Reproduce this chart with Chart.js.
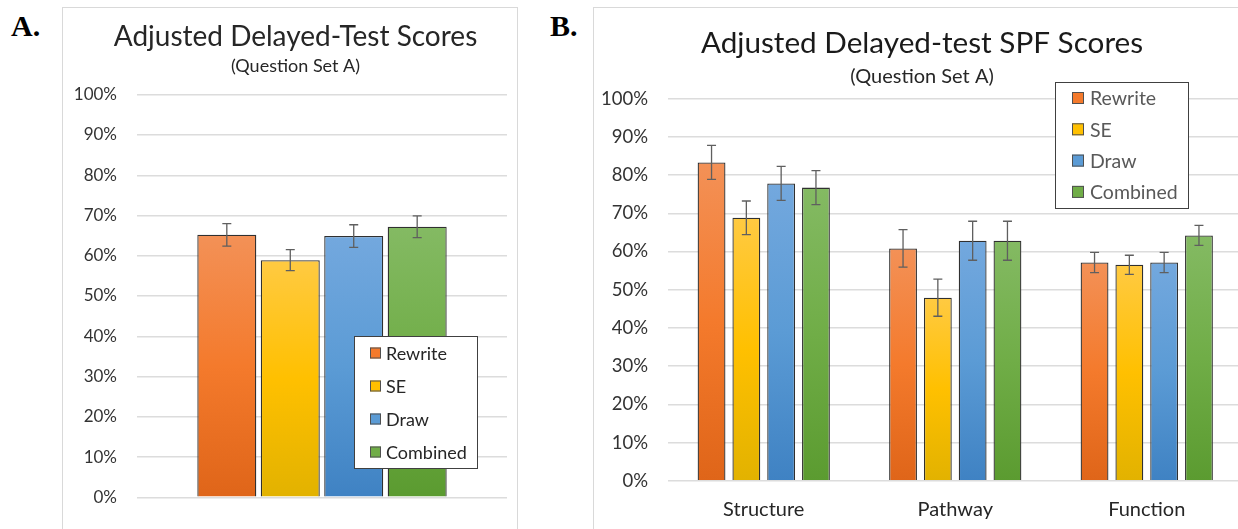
<!DOCTYPE html>
<html>
<head>
<meta charset="utf-8">
<script src="https://cdn.jsdelivr.net/npm/chart.js@4.4.0/dist/chart.umd.min.js"></script>
<style>
  html, body { margin: 0; padding: 0; background: #fff; overflow: hidden; width: 1238px; height: 529px; }
  .panel { position: absolute; box-sizing: border-box; border: 1px solid #d9d9d9; background: #fff; }
  #panelA { left: 62px; top: 7px; width: 456px; height: 540px; }
  #panelB { left: 593px; top: 7px; width: 700px; height: 540px; }
  .panel canvas { position: absolute; left: 0; top: 0; }
  .tag { position: absolute; font-family: 'Liberation Serif', 'Times New Roman', serif; font-weight: bold; font-size: 30px; line-height: 30px; color: #000; }
</style>
</head>
<body>
<div class="tag" style="left:11px; top:11px;">A.</div>
<div class="tag" style="left:550px; top:11px;">B.</div>
<div class="panel" id="panelA"><canvas id="chartA" width="454" height="521" style="width:454px;height:521px"></canvas></div>
<div class="panel" id="panelB"><canvas id="chartB" width="660" height="521" style="width:660px;height:521px"></canvas></div>

<script>
// ---- data ----
const seriesNames = ['Rewrite', 'SE', 'Draw', 'Combined'];

// panel A: one group, four bars
const categoriesA = [''];
const scoresA = [65.2, 58.9, 64.9, 67.2];
const errorsA = [2.8, 2.6, 2.8, 2.7];

// panel B: three groups
const categoriesB = ['Structure', 'Pathway', 'Function'];
const rewriteB = [83.3, 60.8, 57.1];
const seB = [68.8, 47.9, 56.5];
const drawB = [77.8, 62.8, 57.1];
const combinedB = [76.7, 62.8, 64.2];
const rewriteErrB = [4.45, 4.9, 2.65];
const seErrB = [4.4, 4.85, 2.5];
const drawErrB = [4.45, 5.1, 2.65];
const combinedErrB = [4.45, 5.1, 2.6];

const yMin = 0, yMax = 100, yStep = 10;

// light / base / dark shade for each series (Excel style gradient)
const shades = [
  ['#f39157', '#f47a2c', '#df6519'],
  ['#ffca42', '#ffc000', '#e2b200'],
  ['#73a8de', '#5b9bd5', '#3f82c3'],
  ['#84ba63', '#70ad47', '#5b9b30']
];

Chart.defaults.font.family = 'Lato';
Chart.defaults.color = '#333';
Chart.defaults.animation = false;

function barGradient(colors) {
  return function (ctx) {
    const chart = ctx.chart;
    const yScale = chart.scales.y;
    if (!chart.chartArea || !yScale || ctx.raw == null) return colors[1];
    const top = yScale.getPixelForValue(ctx.raw);
    const base = yScale.getPixelForValue(0);
    const g = chart.ctx.createLinearGradient(0, top, 0, base);
    g.addColorStop(0, colors[0]);
    g.addColorStop(0.5, colors[1]);
    g.addColorStop(1, colors[2]);
    return g;
  };
}

function makeDataset(i, values, errors, barPct, catPct) {
  return {
    label: seriesNames[i],
    data: values,
    errors: errors,
    swatch: shades[i][1],
    backgroundColor: barGradient(shades[i]),
    borderColor: '#303030',
    borderWidth: 1.3,
    barPercentage: barPct,
    categoryPercentage: catPct
  };
}

// error bars drawn from the y scale
const errorBars = {
  id: 'errorBars',
  afterDatasetsDraw(chart) {
    const y = chart.scales.y;
    const c = chart.ctx;
    c.save();
    c.strokeStyle = '#5f5f5f';
    c.lineWidth = 1.3;
    chart.data.datasets.forEach((ds, i) => {
      chart.getDatasetMeta(i).data.forEach((bar, j) => {
        const v = ds.data[j], e = ds.errors[j];
        const hi = y.getPixelForValue(v + e);
        const lo = y.getPixelForValue(v - e);
        const cap = 4.5;
        c.beginPath();
        c.moveTo(bar.x, hi); c.lineTo(bar.x, lo);
        c.moveTo(bar.x - cap, hi); c.lineTo(bar.x + cap, hi);
        c.moveTo(bar.x - cap, lo); c.lineTo(bar.x + cap, lo);
        c.stroke();
      });
    });
    c.restore();
  }
};

// the titles in the original sit centred on the whole panel, not on the plot
const titleShift = {
  id: 'titleShift',
  afterLayout(chart, args, opts) {
    chart.boxes.forEach((b) => {
      if (b.options && typeof b.options.text === 'string') {
        b.left += opts.dx;
        b.right += opts.dx;
      }
    });
  }
};

// boxed legend placed inside the plot like the Excel one
const boxLegend = {
  id: 'boxLegend',
  afterDraw(chart, args, opts) {
    const c = chart.ctx;
    c.save();
    c.fillStyle = '#fff';
    c.fillRect(opts.x, opts.y, opts.w, opts.h);
    c.strokeStyle = '#404040';
    c.lineWidth = 1;
    c.strokeRect(opts.x + 0.5, opts.y + 0.5, opts.w, opts.h);
    c.font = opts.fontSize + 'px Lato';
    c.textBaseline = 'middle';
    chart.data.datasets.forEach((ds, i) => {
      const cy = opts.first + i * opts.step;
      const s = opts.swatch;
      c.fillStyle = ds.swatch;
      c.fillRect(opts.swatchX, cy - s / 2, s, s);
      c.strokeStyle = '#505050';
      c.strokeRect(opts.swatchX + 0.5, cy - s / 2 + 0.5, s - 1, s - 1);
      c.fillStyle = opts.color;
      c.fillText(ds.label, opts.textX, cy + 1);
    });
    c.restore();
  }
};

function yAxis(fontSize) {
  return {
    min: yMin,
    max: yMax,
    afterFit: (scale) => { scale.width = 74; },
    ticks: {
      stepSize: yStep,
      padding: 20,
      color: '#333',
      font: { size: fontSize },
      callback: (v) => v + '%'
    },
    grid: { color: '#dcdcdc', lineWidth: 1.4, drawTicks: false },
    border: { display: false }
  };
}

// ---- panel A ----
new Chart(document.getElementById('chartA'), {
  type: 'bar',
  data: {
    labels: categoriesA,
    datasets: seriesNames.map((n, i) => makeDataset(i, [scoresA[i]], [errorsA[i]], 0.93, 0.686))
  },
  options: {
    responsive: false,
    layout: { padding: { left: 0, right: 10, top: 0, bottom: 31.7 } },
    scales: {
      x: { display: false },
      y: yAxis(17)
    },
    plugins: {
      legend: { display: false },
      tooltip: { enabled: false },
      titleShift: { dx: 10.5 },
      title: {
        display: true,
        text: 'Adjusted Delayed-Test Scores',
        color: '#262626',
        font: { size: 28, weight: 'normal' },
        padding: { top: 12.2, bottom: 0 }
      },
      subtitle: {
        display: true,
        text: '(Question Set A)',
        color: '#262626',
        font: { size: 18 },
        padding: { top: 2, bottom: 17.3 }
      },
      boxLegend: { x: 291, y: 328, w: 123, h: 132, first: 345, step: 33, swatch: 11, swatchX: 307, textX: 323, fontSize: 18, color: '#262626' }
    }
  },
  plugins: [titleShift, errorBars, boxLegend]
});

// ---- panel B ----
new Chart(document.getElementById('chartB'), {
  type: 'bar',
  data: {
    labels: categoriesB,
    datasets: [
      makeDataset(0, rewriteB, rewriteErrB, 0.8, 0.727),
      makeDataset(1, seB, seErrB, 0.8, 0.727),
      makeDataset(2, drawB, drawErrB, 0.8, 0.727),
      makeDataset(3, combinedB, combinedErrB, 0.8, 0.727)
    ]
  },
  options: {
    responsive: false,
    layout: { padding: { left: 0, right: 11.5, top: 0, bottom: 8.2 } },
    scales: {
      x: {
        afterFit: (scale) => { scale.height = 40; },
        ticks: { padding: 16.8, color: '#262626', font: { size: 20 } },
        grid: { display: false, drawTicks: false },
        border: { display: false }
      },
      y: yAxis(18.5)
    },
    plugins: {
      legend: { display: false },
      tooltip: { enabled: false },
      titleShift: { dx: 3.75 },
      title: {
        display: true,
        text: 'Adjusted Delayed-test SPF Scores',
        color: '#1a1a1a',
        font: { size: 29.7, weight: 'normal' },
        padding: { top: 17.2, bottom: 0 }
      },
      subtitle: {
        display: true,
        text: '(Question Set A)',
        color: '#262626',
        font: { size: 20 },
        padding: { top: 4, bottom: 9.7 }
      },
      boxLegend: { x: 461, y: 74, w: 133, h: 126, first: 90, step: 31.3, swatch: 12, swatchX: 478, textX: 496, fontSize: 19.5, color: '#595959' }
    }
  },
  plugins: [titleShift, errorBars, boxLegend]
});
</script>
</body>
</html>
